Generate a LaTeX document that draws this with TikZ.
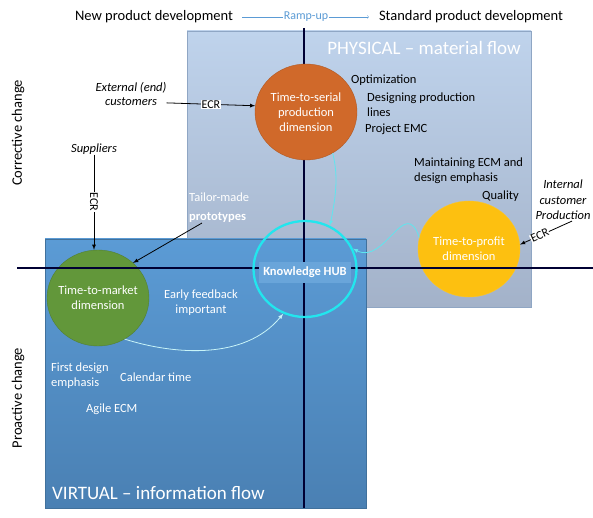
\documentclass[tikz,border=0pt]{standalone}
\usepackage{fontspec}
\setmainfont{Carlito}
\usetikzlibrary{shapes.geometric}

\definecolor{phylight}{HTML}{BFD3EC}
\definecolor{phydark}{HTML}{A3B2C9}
\definecolor{phyedge}{HTML}{8FA6C4}
\definecolor{virlight}{HTML}{5B9BD5}
\definecolor{virdark}{HTML}{4A80B3}
\definecolor{viredge}{HTML}{41719C}
\definecolor{serialc}{HTML}{D0692A}
\definecolor{marketc}{HTML}{62973A}
\definecolor{profitc}{HTML}{FDC010}
\definecolor{hubc}{HTML}{22E6EE}
\definecolor{flowc}{HTML}{5FE6EE}
\definecolor{palec}{HTML}{C8F4F8}
\definecolor{hubbox}{HTML}{69A5DA}
\definecolor{rampc}{HTML}{5B9BD5}

\begin{document}
\begin{tikzpicture}[x=1pt,y=-1pt,
    txt/.style={inner sep=0pt, align=left, font=\fontsize{12.5}{15}\selectfont},
    wtxt/.style={txt, text=white},
    big/.style={inner sep=0pt, font=\fontsize{14.5}{17}\selectfont},
    flowlabel/.style={inner sep=0pt, text=white, font=\fontsize{19}{22}\selectfont},
    dim/.style={ellipse, minimum width=102pt, minimum height=96pt, inner sep=0pt},
    dimtext/.style={inner sep=0pt, text=white, align=center, font=\fontsize{12.5}{15}\selectfont},
    ecr/.style={fill=white, inner sep=0.5pt, font=\fontsize{12}{14}\selectfont},
    ecrline/.style={line width=0.8pt, -latex},
    axis/.style={line width=1.3pt, draw=black!80!blue},
    hubflow/.style={draw=flowc, line width=0.8pt, -latex}]
\useasboundingbox (0,0) rectangle (593,518);

\draw[phyedge, top color=phylight, bottom color=phydark] (187,31) rectangle (531,307);
\draw[viredge, top color=virlight, bottom color=virdark] (45,239) rectangle (366,508);
\draw[axis] (304,28) -- (304,508);

\node[dim, fill=serialc, draw=serialc!85!black,
    label={[dimtext]center:Time-to-serial\\production\\dimension}] (serial) at (306,112) {};
\node[dim, fill=marketc, draw=marketc!85!black,
    label={[dimtext]center:Time-to-market\\dimension}] (market) at (98,298) {};
\node[dim, fill=profitc, draw=profitc!90!white,
    label={[dimtext]center:Time-to-profit\\dimension}] (profit) at (469,249) {};
\draw[axis] (17,268) -- (593,268);
\node[fill=hubbox, text=white, minimum width=92pt, minimum height=21pt, inner sep=0pt,
    font=\fontsize{12.5}{15}\selectfont\bfseries] (hublabel) at (305,272) {Knowledge HUB};
\node[ellipse, draw=hubc, line width=2.3pt, minimum width=103pt, minimum height=96pt] (hub) at (305,269) {};

\node[big] (newdev) at (154,17) {New product development};
\node[big] (stddev) at (471,17) {Standard product development};
\draw[rampc, ->, shorten <=9pt, shorten >=10pt] (newdev.east) -- node[fill=white, text=rampc, inner sep=1pt,
    font=\fontsize{12}{14}\selectfont] {Ramp-up} (stddev.west);
\node[big, rotate=90] (corrective) at (18,133) {Corrective change};
\node[big, rotate=90] (proactive) at (18,398) {Proactive change};
\node[flowlabel, anchor=east] (physical) at (521,48) {PHYSICAL -- material flow};
\node[flowlabel, anchor=west] (virtual) at (52,493) {VIRTUAL -- information flow};

\node[txt, align=center, font=\fontsize{12.5}{14}\selectfont\itshape] (ext) at (131,94) {External (end)\\customers};
\node[txt, font=\fontsize{12.5}{15}\selectfont\itshape] (sup) at (94,149) {Suppliers};
\node[txt, align=center, font=\fontsize{12.5}{15.5}\selectfont\itshape] (intc) at (563,200) {Internal\\customer\\Production};
\node[wtxt, anchor=west] (proto) at (189,208) {Tailor-made\\[4pt]\textbf{prototypes}};

\node[txt, anchor=west] (opt) at (351,80) {Optimization};
\node[txt, anchor=west] (design) at (367,104.5) {Designing production\\lines};
\node[txt, anchor=west] (emc) at (365,129) {Project EMC};
\node[txt, anchor=west] (maint) at (414,170.5) {Maintaining ECM and\\design emphasis};
\node[txt, anchor=west] (quality) at (482,196) {Quality};
\node[wtxt, align=center] (early) at (201,303) {Early feedback\\important};
\node[wtxt, anchor=west] (first) at (51,376) {First design\\emphasis};
\node[wtxt, anchor=west] (cal) at (120,377) {Calendar time};
\node[wtxt, anchor=west] (agile) at (86,409) {Agile ECM};

\draw[ecrline] (ext.-14) -- node[ecr] {ECR} (serial.173);
\draw[ecrline] (sup.south) -- node[ecr, rotate=-90] {ECR} (sup.south |- market.north);
\draw[ecrline] ([xshift=13pt]proto.south west) -- (market.45);
\draw[ecrline] ([xshift=9pt,yshift=-1pt]intc.south) -- node[ecr, sloped, pos=0.62] {ECR} (profit.5);

\draw[hubflow] (serial.-57) .. controls (339,178) and (335,200) .. (hub.60);
\draw[hubflow] (profit.167) .. controls (405,195) and (385,265) .. (hub.23);
\draw[hubflow, draw=palec] (market.-57) .. controls (175,355) and (245,360) .. (hub.-116);
\end{tikzpicture}
\end{document}
